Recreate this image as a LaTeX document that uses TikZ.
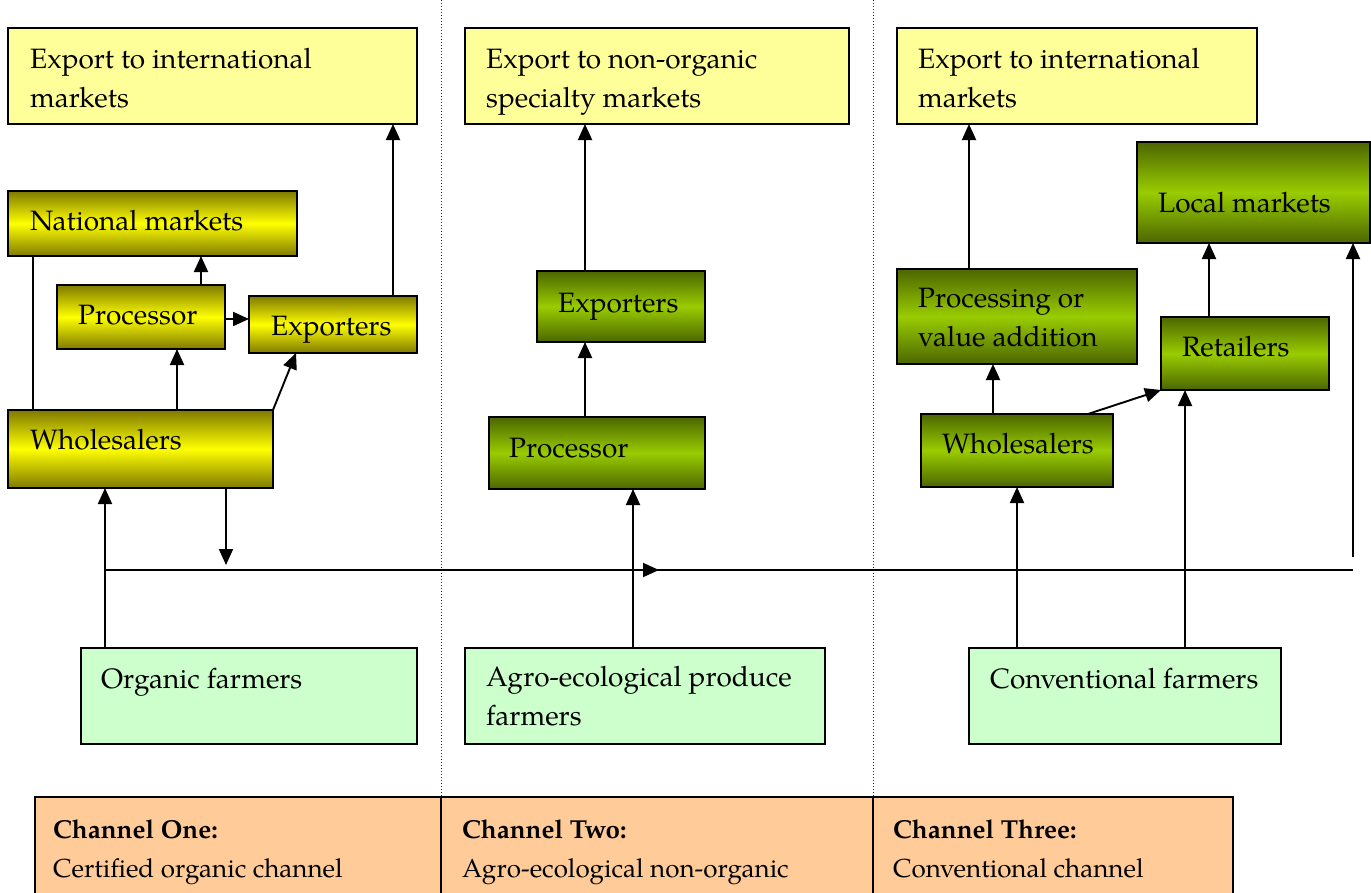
\documentclass[tikz,border=0pt]{standalone}
\usepackage{fontspec}
\setmainfont{TeX Gyre Pagella}
\usetikzlibrary{arrows.meta}
\definecolor{lightyel}{HTML}{FFFF99}
\definecolor{lightgrn}{HTML}{CCFFCC}
\definecolor{peach}{HTML}{FFCC99}
\definecolor{yeldark}{HTML}{7F7A00}
\definecolor{yelmid}{HTML}{FFFF00}
\definecolor{grndark}{HTML}{4C6600}
\definecolor{grnmid}{HTML}{99CC00}
\tikzset{
  boxbase/.style={draw=black, line width=2pt, anchor=north west, inner sep=0pt, outer sep=0pt},
  paleyel/.style={boxbase, fill=lightyel},
  palegrn/.style={boxbase, fill=lightgrn},
  yelgrad/.style={boxbase, top color=yeldark, bottom color=yeldark, middle color=yelmid},
  grngrad/.style={boxbase, top color=grndark, bottom color=grndark, middle color=grnmid},
  lbl/.style={anchor=base west, inner sep=0pt, align=left, font=\fontsize{28}{39}\selectfont},
  tlbl/.style={anchor=base west, inner sep=0pt, align=left, font=\fontsize{26}{39}\selectfont},
  arr/.style={line width=1.9pt, -{Triangle[length=16pt,width=14pt]}},
  ln/.style={line width=1.9pt},
  sep/.style={line width=1pt, dotted, black!85},
}
\begin{document}
\begin{tikzpicture}[x=1pt,y=-1pt]
\useasboundingbox (0,0) rectangle (1371,892);
% separators
\coordinate (s1t) at (441,0);
\coordinate (s1b) at (441,797);
\coordinate (s2t) at (873,0);
\coordinate (s2b) at (873,797);
\draw[sep] (s1t) -- (s1b);
\draw[sep] (s2t) -- (s2b);

% ---- Channel one ----
\node[paleyel, minimum width=409, minimum height=96] (lexp) at (8,28) {};
\node[lbl] (lexpT) at (30,107) {Export to international\\markets};
\node[yelgrad, minimum width=289, minimum height=65] (nat) at (8,191) {};
\node[lbl] (natT) at (30,230) {National markets};
\node[yelgrad, minimum width=168, minimum height=64] (lprc) at (57,285) {};
\node[lbl] (lprcT) at (78,324) {Processor};
\node[yelgrad, minimum width=168, minimum height=57] (lexr) at (249,296) {};
\node[lbl] (lexrT) at (271,335) {Exporters};
\node[yelgrad, minimum width=265, minimum height=78] (lwh) at (8,410) {};
\node[lbl] (lwhT) at (30,449) {Wholesalers};
\node[palegrn, minimum width=336, minimum height=96] (org) at (81,648) {};
\node[lbl] (orgT) at (101,688) {Organic farmers};

% ---- Channel two ----
\node[paleyel, minimum width=384, minimum height=96] (mexp) at (465,28) {};
\node[lbl] (mexpT) at (486,107) {Export to non-organic\\specialty markets};
\node[grngrad, minimum width=168, minimum height=71] (mexr) at (537,271) {};
\node[lbl] (mexrT) at (558,312) {Exporters};
\node[grngrad, minimum width=216, minimum height=72] (mprc) at (489,417) {};
\node[lbl] (mprcT) at (509,457) {Processor};
\node[palegrn, minimum width=360, minimum height=96] (agr) at (465,648) {};
\node[lbl] (agrT) at (486,725) {Agro-ecological produce\\farmers};

% ---- Channel three ----
\node[paleyel, minimum width=360, minimum height=96] (rexp) at (897,28) {};
\node[lbl] (rexpT) at (918,107) {Export to international\\markets};
\node[grngrad, minimum width=233, minimum height=101] (loc) at (1137,142) {};
\node[lbl] (locT) at (1158,212) {Local markets};
\node[grngrad, minimum width=240, minimum height=95] (pva) at (897,269) {};
\node[lbl] (pvaT) at (918,346) {Processing or\\value addition};
\node[grngrad, minimum width=168, minimum height=73] (ret) at (1161,317) {};
\node[lbl] (retT) at (1182,356) {Retailers};
\node[grngrad, minimum width=192, minimum height=73] (rwh) at (921,414) {};
\node[lbl] (rwhT) at (942,453) {Wholesalers};
\node[palegrn, minimum width=312, minimum height=96] (con) at (969,648) {};
\node[lbl] (conT) at (990,688) {Conventional farmers};

% ---- connectors channel one ----
\draw[ln] (33,0 |- nat.south) -- (33,0 |- lwh.north);
\draw[arr] (201,0 |- lprc.north) -- (201,0 |- nat.south);
\draw[arr] (lprc.east |- 0,319) -- (lexr.west |- 0,319);
\draw[arr] (177,0 |- lwh.north) -- (177,0 |- lprc.south);
\draw[arr] (lwh.north east) -- (296,0 |- lexr.south);
\draw[arr] (393,0 |- lexr.north) -- (393,0 |- lexp.south);
\draw[arr] (105,0 |- org.north) -- (105,0 |- lwh.south);
\coordinate (wd) at (226,565);
\draw[arr] (226,0 |- lwh.south) -- (wd);

% horizontal flow line
\coordinate (hl) at (105,570);
\coordinate (hm) at (659,570);
\coordinate (hr) at (1353,570);
\coordinate (vr) at (1353,557);
\draw[ln] (hl) -- (hr);
\draw[arr] (hl) -- (hm);
\draw[arr] (vr) -- (1353,0 |- loc.south);

% ---- connectors channel two ----
\draw[arr] (633,0 |- agr.north) -- (633,0 |- mprc.south);
\draw[arr] (585,0 |- mprc.north) -- (585,0 |- mexr.south);
\draw[arr] (585,0 |- mexr.north) -- (585,0 |- mexp.south);

% ---- connectors channel three ----
\draw[arr] (969,0 |- pva.north) -- (969,0 |- rexp.south);
\draw[arr] (993,0 |- rwh.north) -- (993,0 |- pva.south);
\draw[arr] (1088,0 |- rwh.north) -- (ret.south west);
\draw[arr] (1209,0 |- ret.north) -- (1209,0 |- loc.south);
\draw[arr] (1017,0 |- con.north) -- (1017,0 |- rwh.south);
\draw[arr] (1185,0 |- con.north) -- (1185,0 |- ret.south);

% ---- channel table ----
\node[boxbase, fill=peach, line width=1.5pt, minimum width=406, minimum height=110] (c1) at (35,797) {};
\node[boxbase, fill=peach, line width=1.5pt, minimum width=432, minimum height=110] (c2) at (441,797) {};
\node[boxbase, fill=peach, line width=1.5pt, minimum width=360, minimum height=110] (c3) at (873,797) {};
\draw[line width=2.4pt] (c1.north west) -- (c3.north east);
\node[tlbl] (c1T) at (53,877) {\textbf{Channel One:}\\Certified organic channel};
\node[tlbl] (c2T) at (462,877) {\textbf{Channel Two:}\\Agro-ecological non-organic};
\node[tlbl] (c3T) at (893,877) {\textbf{Channel Three:}\\Conventional channel};
\end{tikzpicture}
\end{document}
